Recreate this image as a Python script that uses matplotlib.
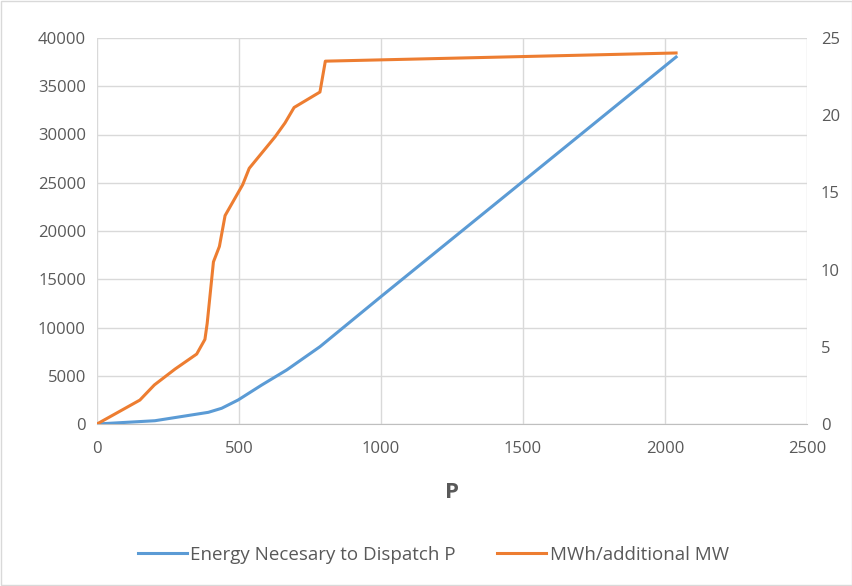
import matplotlib
matplotlib.use("Agg")
import matplotlib.pyplot as plt
from matplotlib.patches import Rectangle

# Data
p_energy = [0, 204, 392, 439, 497, 580, 668, 785, 1004, 1419, 2039]
energy = [0, 340, 1210, 1630, 2490, 4040, 5600, 8010, 13300, 23210, 38030]

p_mwh = [0, 151, 202, 275, 351, 380, 388, 410, 431, 451, 513, 536, 627, 662, 694, 785, 804, 2039]
mwh = [0, 1.55, 2.53, 3.56, 4.53, 5.48, 6.52, 10.5, 11.5, 13.5, 15.5, 16.56, 18.6, 19.5, 20.5, 21.5, 23.5, 24.03]

xticks = [0, 500, 1000, 1500, 2000, 2500]
yticks_left = list(range(0, 40001, 5000))
yticks_right = list(range(0, 26, 5))

plt.rcParams['font.family'] = ['Open Sans', 'DejaVu Sans']

W, H = 853, 586
fig = plt.figure(figsize=(W / 100, H / 100), dpi=100)
ax = fig.add_axes([97 / W, 1 - 424 / H, (807 - 97) / W, (424 - 38) / H])
ax2 = ax.twinx()

grid_c = '#d9d9d9'
text_c = '#595959'
blue = '#5B9BD5'
orange = '#ED7D31'

ax.plot(p_energy, energy, color=blue, lw=2.2, solid_joinstyle='round', label='Energy Necesary to Dispatch P', zorder=3)
ax2.plot(p_mwh, mwh, color=orange, lw=2.2, solid_joinstyle='round', label='MWh/additional MW', zorder=3)

ax.set_xlim(0, 2500)
ax.set_ylim(0, 40000)
ax2.set_ylim(0, 25)
ax.set_xticks(xticks)
ax.set_yticks(yticks_left)
ax2.set_yticks(yticks_right)
ax.grid(True, color=grid_c, lw=1)
ax.set_axisbelow(True)

for a in (ax, ax2):
    for s in ('top', 'left', 'right', 'bottom'):
        a.spines[s].set_visible(False)
    a.tick_params(length=0, labelsize=12, labelcolor=text_c)
ax.spines['bottom'].set_visible(True)
ax.spines['bottom'].set_color('#bfbfbf')
ax.tick_params(axis='x', pad=12)
ax.tick_params(axis='y', pad=8)
ax2.tick_params(axis='y', pad=10)

ax.set_xlabel('P', fontsize=16, fontweight='bold', color=text_c, labelpad=18)

h1, l1 = ax.get_legend_handles_labels()
h2, l2 = ax2.get_legend_handles_labels()
fig.legend(h1 + h2, l1 + l2, loc='center', bbox_to_anchor=(0.508, 1 - 555 / H), ncol=2,
           frameon=False, fontsize=13.5, labelcolor=text_c, handlelength=2.6, columnspacing=2.2,
           handletextpad=0.2)

fig.patches.append(Rectangle((1 / W, 1 / H), 1 - 2 / W, 1 - 2 / H, transform=fig.transFigure,
                             fill=False, edgecolor='#d9d9d9', lw=1))

fig.savefig('out.png', dpi=100)
